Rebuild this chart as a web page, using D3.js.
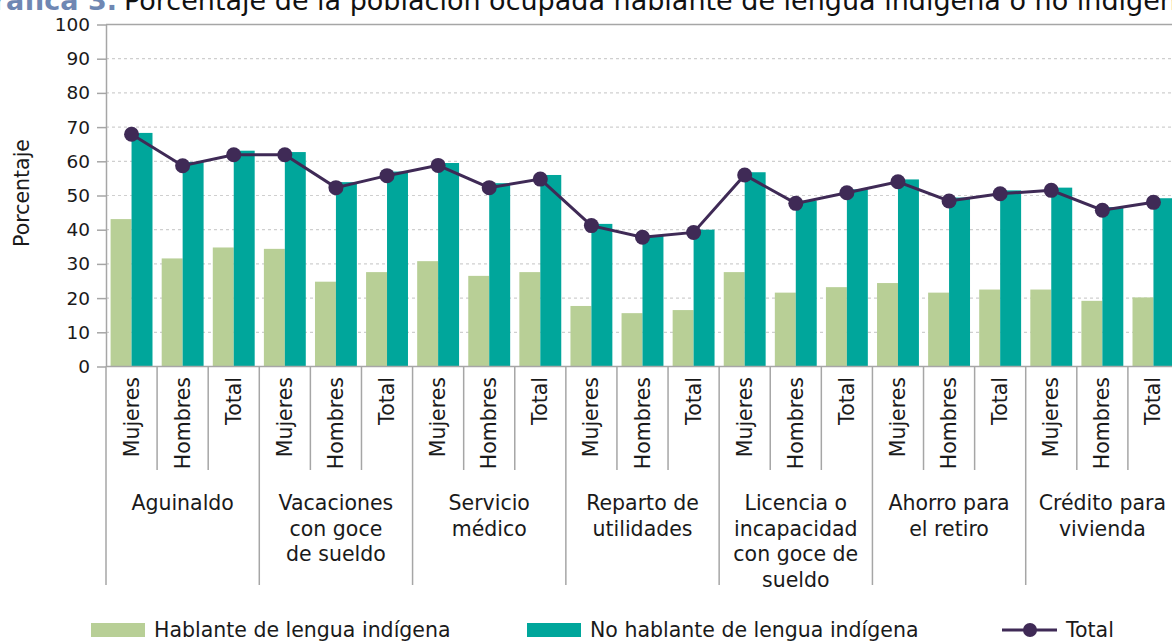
<!DOCTYPE html>
<html>
<head>
<meta charset="utf-8">
<script src="https://cdn.jsdelivr.net/npm/d3@7"></script>
<style>
  html, body { margin: 0; padding: 0; background: #fff; overflow: hidden; }
  text { font-family: "DejaVu Sans", sans-serif; fill: #1a1a1a; }
</style>
</head>
<body>
<div id="chart"></div>
<script>
// data
var groups = [
	["Aguinaldo"],
	["Vacaciones", "con goce", "de sueldo"],
	["Servicio", "médico"],
	["Reparto de", "utilidades"],
	["Licencia o", "incapacidad", "con goce de", "sueldo"],
	["Ahorro para", "el retiro"],
	["Crédito para", "vivienda"]
];
var subLabels = ["Mujeres", "Hombres", "Total"];

var hablante = [43.1, 31.6, 34.8, 34.4, 24.8, 27.6, 30.8, 26.5, 27.6, 17.7, 15.6, 16.5, 27.6, 21.6, 23.2, 24.4, 21.6, 22.5, 22.5, 19.2, 20.2];
var noHablante = [68.3, 59.8, 63.1, 62.7, 53.9, 57.0, 59.5, 53.6, 56.0, 41.7, 38.3, 40.0, 56.8, 48.5, 51.8, 54.7, 49.4, 51.5, 52.3, 46.6, 49.2];
var total = [67.9, 58.7, 61.9, 61.9, 52.3, 55.8, 58.8, 52.3, 54.8, 41.2, 37.8, 39.2, 56.0, 47.7, 50.8, 54.0, 48.4, 50.5, 51.5, 45.7, 48.0];

var yTicks = [0, 10, 20, 30, 40, 50, 60, 70, 80, 90, 100];
var seriesNames = ["Hablante de lengua indígena", "No hablante de lengua indígena", "Total"];

var W = 1172, H = 641;
var cGreen = "#b8cf96", cTeal = "#00a69b", cLine = "#3f2a56";

var rows = [];
groups.forEach(function(g, gi) {
	subLabels.forEach(function(s, si) {
		var i = gi * 3 + si;
		rows.push({ i: i, group: gi, sub: s, h: hablante[i], n: noHablante[i], t: total[i] });
	});
});

var svg = d3.select("#chart").append("svg")
	.attr("width", W)
	.attr("height", H);

var x = d3.scaleBand()
	.domain(d3.range(rows.length))
	.range([106, 1179])
	.paddingInner(0.18)
	.paddingOuter(0.09);
var xs = d3.scaleBand()
	.domain(["h", "n"])
	.range([0, x.bandwidth()]);
var y = d3.scaleLinear()
	.domain([0, 100])
	.range([366.5, 24.5]);
var step = x.step();
var x0 = x.range()[0];

// title (clipped at top in the reference)
svg.append("text")
	.attr("x", 117).attr("y", 10)
	.attr("text-anchor", "end")
	.style("font-size", "27px")
	.style("font-weight", "bold")
	.style("fill", "#6f87b3")
	.text("Gráfica 3.");
svg.append("text")
	.attr("x", 124).attr("y", 10)
	.style("font-size", "27px")
	.style("fill", "#111")
	.text("Porcentaje de la población ocupada hablante de lengua indígena o no indígena");

// grid
svg.append("g")
	.selectAll("line")
	.data(yTicks.filter(function(d) { return d > 0; }))
	.join("line")
		.attr("x1", x0).attr("x2", 1179)
		.attr("y1", function(d) { return y(d); })
		.attr("y2", function(d) { return y(d); })
		.attr("stroke", function(d) { return d == 100 ? "#a6a6a6" : "#cfcfcf"; })
		.attr("stroke-width", function(d) { return d == 100 ? 1.5 : 1.2; })
		.attr("stroke-dasharray", function(d) { return d == 100 ? null : "3,3"; });

// bars
var bars = svg.append("g");
bars.selectAll("rect.h")
	.data(rows)
	.join("rect")
		.attr("class", "h")
		.attr("x", function(d) { return x(d.i) + xs("h"); })
		.attr("y", function(d) { return y(d.h); })
		.attr("width", xs.bandwidth())
		.attr("height", function(d) { return y(0) - y(d.h); })
		.attr("fill", cGreen);
bars.selectAll("rect.n")
	.data(rows)
	.join("rect")
		.attr("class", "n")
		.attr("x", function(d) { return x(d.i) + xs("n"); })
		.attr("y", function(d) { return y(d.n); })
		.attr("width", xs.bandwidth())
		.attr("height", function(d) { return y(0) - y(d.n); })
		.attr("fill", cTeal);

// y axis
var yAxis = svg.append("g")
	.attr("transform", "translate(" + x0 + ",0)")
	.call(d3.axisLeft(y).tickValues(yTicks).tickSize(9).tickPadding(7).tickSizeOuter(0));
yAxis.select(".domain").attr("stroke", "#a6a6a6").attr("stroke-width", 1.5);
yAxis.selectAll(".tick line").attr("stroke", "#a6a6a6").attr("stroke-width", 1.5);
yAxis.selectAll(".tick text")
	.style("font-size", "18.5px")
	.style("font-family", "'DejaVu Sans', sans-serif")
	.attr("fill", "#1a1a1a");

svg.append("text")
	.attr("transform", "translate(29,193) rotate(-90)")
	.attr("text-anchor", "middle")
	.style("font-size", "20.5px")
	.text("Porcentaje");

// x axis base line
svg.append("line")
	.attr("x1", x0).attr("x2", 1179)
	.attr("y1", y(0)).attr("y2", y(0))
	.attr("stroke", "#a6a6a6").attr("stroke-width", 1.5);

// separators below axis
var seps = d3.range(rows.length + 1);
svg.append("g")
	.selectAll("line")
	.data(seps)
	.join("line")
		.attr("x1", function(d) { return x0 + d * step; })
		.attr("x2", function(d) { return x0 + d * step; })
		.attr("y1", y(0))
		.attr("y2", function(d) { return d % 3 == 0 ? 585 : 470; })
		.attr("stroke", "#a6a6a6").attr("stroke-width", 1.5);

// rotated sub labels
svg.append("g")
	.selectAll("text")
	.data(rows)
	.join("text")
		.attr("transform", function(d) {
			return "translate(" + (x(d.i) + x.bandwidth() / 2 + 7) + ",377) rotate(-90)";
		})
		.attr("text-anchor", "end")
		.style("font-size", "20.5px")
		.text(function(d) { return d.sub; });

// group labels
var gl = svg.append("g")
	.selectAll("text")
	.data(groups)
	.join("text")
		.attr("text-anchor", "middle")
		.style("font-size", "20.5px")
		.attr("x", function(d, i) { return x0 + (i * 3 + 1.5) * step; })
		.attr("y", 510);
gl.selectAll("tspan")
	.data(function(d) { return d; })
	.join("tspan")
		.attr("x", function() { return d3.select(this.parentNode).attr("x"); })
		.attr("dy", function(d, i) { return i == 0 ? 0 : 25.5; })
		.text(function(d) { return d; });

// total line
var line = d3.line()
	.x(function(d) { return x(d.i) + x.bandwidth() / 2; })
	.y(function(d) { return y(d.t); });
svg.append("path")
	.datum(rows)
	.attr("d", line)
	.attr("fill", "none")
	.attr("stroke", cLine)
	.attr("stroke-width", 3);
svg.append("g")
	.selectAll("circle")
	.data(rows)
	.join("circle")
		.attr("cx", function(d) { return x(d.i) + x.bandwidth() / 2; })
		.attr("cy", function(d) { return y(d.t); })
		.attr("r", 7.5)
		.attr("fill", cLine);

// legend
var legend = svg.append("g");
legend.append("rect").attr("x", 91).attr("y", 623).attr("width", 54).attr("height", 14).attr("fill", cGreen);
legend.append("text").attr("x", 154).attr("y", 637).style("font-size", "20.5px").text(seriesNames[0]);
legend.append("rect").attr("x", 527).attr("y", 623).attr("width", 54).attr("height", 14).attr("fill", cTeal);
legend.append("text").attr("x", 590).attr("y", 637).style("font-size", "20.5px").text(seriesNames[1]);
legend.append("line").attr("x1", 1002).attr("x2", 1057).attr("y1", 630).attr("y2", 630)
	.attr("stroke", cLine).attr("stroke-width", 3);
legend.append("circle").attr("cx", 1030).attr("cy", 630).attr("r", 7).attr("fill", cLine);
legend.append("text").attr("x", 1066).attr("y", 637).style("font-size", "20.5px").text(seriesNames[2]);
</script>
</body>
</html>
